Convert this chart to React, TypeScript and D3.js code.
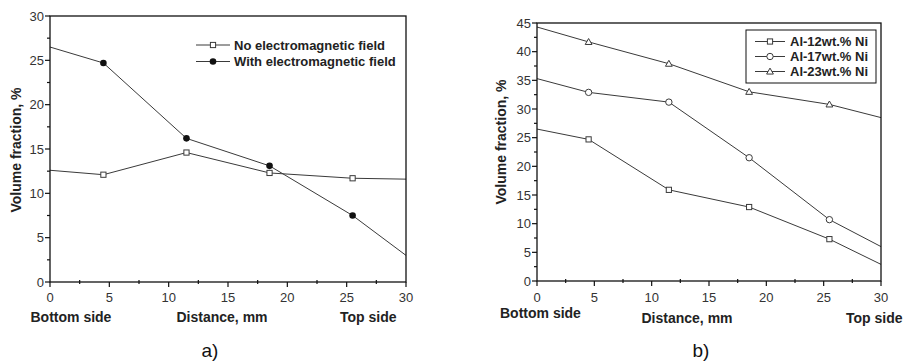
import React from "react";
import * as d3 from "d3";

// distances along the sample, mm (first/last are the ends of the casting)
const distance = [0, 4.5, 11.5, 18.5, 25.5, 30];

// panel a
const noField = [12.6, 12.1, 14.6, 12.3, 11.7, 11.6];
const withField = [26.5, 24.7, 16.2, 13.1, 7.5, 3.0];

// panel b
const al12 = [26.5, 24.7, 15.9, 12.9, 7.3, 2.9];
const al17 = [35.3, 32.9, 31.2, 21.5, 10.7, 6.0];
const al23 = [44.3, 41.7, 37.9, 33.0, 30.8, 28.5];

const xTicks = [0, 5, 10, 15, 20, 25, 30];
const yTicksA = [0, 5, 10, 15, 20, 25, 30];
const yTicksB = [0, 5, 10, 15, 20, 25, 30, 35, 40, 45];

const FONT = "'Liberation Sans', Arial, sans-serif";
const LINE = "#3a3a3a";
const TEXT = "#222";

type MarkerType = "square" | "dot" | "circle" | "triangle";

type Series = { name: string; values: number[]; marker: MarkerType };

const seriesA: Series[] = [
  { name: "No electromagnetic field", values: noField, marker: "square" },
  { name: "With electromagnetic field", values: withField, marker: "dot" },
];

const seriesB: Series[] = [
  { name: "Al-12wt.% Ni", values: al12, marker: "square" },
  { name: "Al-17wt.% Ni", values: al17, marker: "circle" },
  { name: "Al-23wt.% Ni", values: al23, marker: "triangle" },
];

function Marker({ type, x, y }: { type: MarkerType; x: number; y: number }) {
  if (type === "square")
    return <rect x={x - 2.6} y={y - 2.6} width={5.2} height={5.2} fill="#fff" stroke={LINE} strokeWidth={1} />;
  if (type === "dot") return <circle cx={x} cy={y} r={3.3} fill="#111" />;
  if (type === "circle") return <circle cx={x} cy={y} r={3.2} fill="#fff" stroke={LINE} strokeWidth={1} />;
  const s = 3.4;
  return (
    <path
      d={`M${x},${y - s}L${x + s},${y + s * 0.75}L${x - s},${y + s * 0.75}Z`}
      fill="#fff"
      stroke={LINE}
      strokeWidth={1}
    />
  );
}

type PanelProps = {
  left: number;
  right: number;
  top: number;
  bottom: number;
  yMax: number;
  yTicks: number[];
  series: Series[];
  legend: { x0: number; x1: number; textX: number; rows: number[]; box?: number[]; size: number };
  yLabelX: number;
  yLabelY: number;
  sideY: number;
  distY: number;
  bottomSideX: number;
  distX: number;
  topSideX: number;
  tag: string;
  tagX: number;
};

function Panel(p: PanelProps) {
  const x = d3.scaleLinear().domain([0, 30]).range([p.left, p.right]);
  const y = d3.scaleLinear().domain([0, p.yMax]).range([p.bottom, p.top]);
  const line = d3
    .line<number>()
    .x((d, i) => x(distance[i]))
    .y((d) => y(d));
  const minorX = d3.range(2.5, 30, 5);
  const minorY = d3.range(2.5, p.yMax, 5);

  return (
    <g>
      {p.series.map((s) => (
        <g key={s.name}>
          <path d={line(s.values) || ""} fill="none" stroke={LINE} strokeWidth={1} />
          {s.values.map((v, i) =>
            distance[i] > 0 && distance[i] < 30 ? (
              <Marker key={i} type={s.marker} x={x(distance[i])} y={y(v)} />
            ) : null
          )}
        </g>
      ))}

      <rect
        x={p.left}
        y={p.top}
        width={p.right - p.left}
        height={p.bottom - p.top}
        fill="none"
        stroke="#111"
        strokeWidth={1.3}
      />

      {xTicks.map((t) => (
        <g key={"x" + t}>
          <line x1={x(t)} x2={x(t)} y1={p.bottom} y2={p.bottom + 5} stroke="#111" strokeWidth={1.2} />
          <text x={x(t)} y={301.5} textAnchor="middle" fontSize={13} fill="#333" fontFamily={FONT}>
            {t}
          </text>
        </g>
      ))}
      {minorX.map((t) => (
        <line key={"mx" + t} x1={x(t)} x2={x(t)} y1={p.bottom - 2} y2={p.bottom + 2} stroke="#111" strokeWidth={1.2} />
      ))}
      {p.yTicks.map((t) => (
        <g key={"y" + t}>
          <line x1={p.left - 5} x2={p.left} y1={y(t)} y2={y(t)} stroke="#111" strokeWidth={1.2} />
          <text x={p.left - 6} y={y(t)} dy="0.35em" textAnchor="end" fontSize={13} fill="#333" fontFamily={FONT}>
            {t}
          </text>
        </g>
      ))}
      {minorY.map((t) => (
        <line key={"my" + t} x1={p.left - 3} x2={p.left} y1={y(t)} y2={y(t)} stroke="#111" strokeWidth={1.2} />
      ))}

      <text
        transform={`translate(${p.yLabelX},${p.yLabelY}) rotate(-90)`}
        textAnchor="middle"
        dy="0.35em"
        fontSize={14}
        fontWeight="bold"
        fill={TEXT}
        fontFamily={FONT}
      >
        Volume fraction, %
      </text>

      <g fontSize={14} fontWeight="bold" fill={TEXT} fontFamily={FONT}>
        <text x={p.bottomSideX} y={p.sideY}>Bottom side</text>
        <text x={p.distX} y={p.distY}>Distance, mm</text>
        <text x={p.topSideX} y={p.distY}>Top side</text>
      </g>

      <text x={p.tagX} y={357} textAnchor="middle" fontSize={19} fill="#111" fontFamily={FONT}>
        {p.tag}
      </text>

      {p.legend.box && (
        <rect
          x={p.legend.box[0]}
          y={p.legend.box[1]}
          width={p.legend.box[2] - p.legend.box[0]}
          height={p.legend.box[3] - p.legend.box[1]}
          fill="#fff"
          stroke="#111"
          strokeWidth={1}
        />
      )}
      {p.series.map((s, i) => {
        const ry = p.legend.rows[i];
        return (
          <g key={"l" + s.name}>
            <line x1={p.legend.x0} x2={p.legend.x1} y1={ry} y2={ry} stroke={LINE} strokeWidth={1} />
            <Marker type={s.marker} x={(p.legend.x0 + p.legend.x1) / 2} y={ry} />
            <text
              x={p.legend.textX}
              y={ry}
              dy="0.36em"
              fontSize={p.legend.size}
              fontWeight="bold"
              fill={TEXT}
              fontFamily={FONT}
            >
              {s.name}
            </text>
          </g>
        );
      })}
    </g>
  );
}

export default function App() {
  return (
    <svg width={910} height={363} style={{ position: "absolute", left: 0, top: 0, background: "#fff" }}>
      <Panel
        left={50}
        right={406}
        top={16}
        bottom={282}
        yMax={30}
        yTicks={yTicksA}
        series={seriesA}
        legend={{ x0: 196, x1: 230, textX: 234, rows: [45, 61.5], size: 13 }}
        yLabelX={16}
        yLabelY={150}
        sideY={321.5}
        distY={321.5}
        bottomSideX={30.5}
        distX={176.5}
        topSideX={340}
        tag="a)"
        tagX={210}
      />
      <Panel
        left={537}
        right={881}
        top={23}
        bottom={281}
        yMax={45}
        yTicks={yTicksB}
        series={seriesB}
        legend={{ x0: 755, x1: 785, textX: 790, rows: [41.5, 56.5, 71.5], box: [746, 30, 876, 83], size: 13 }}
        yLabelX={501}
        yLabelY={142}
        sideY={318}
        distY={323}
        bottomSideX={500}
        distX={641.5}
        topSideX={846}
        tag="b)"
        tagX={701}
      />
    </svg>
  );
}
